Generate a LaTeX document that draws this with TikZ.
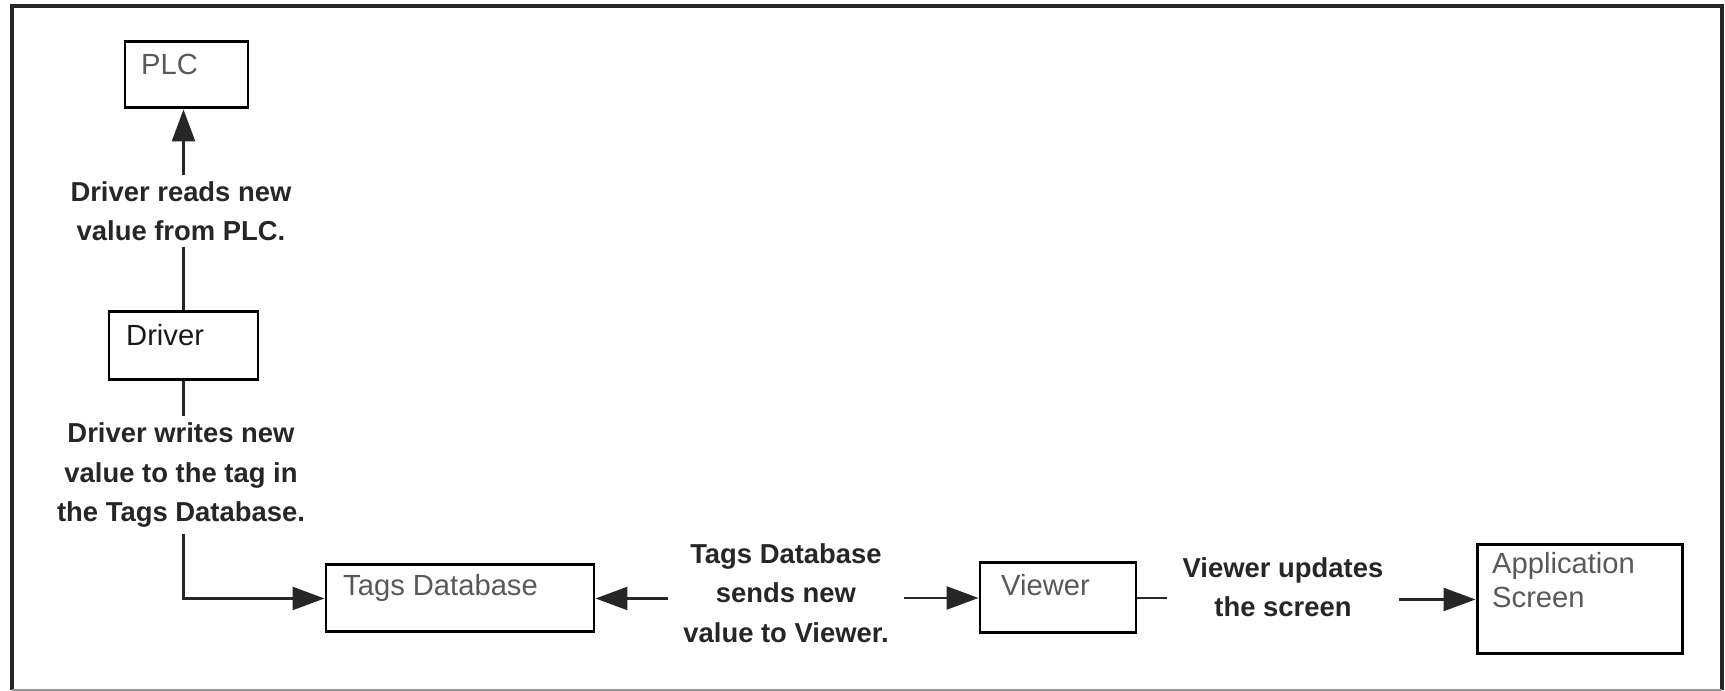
\documentclass[tikz,border=0pt]{standalone}
\usepackage{fontspec}
\setmainfont{Liberation Sans}
\usetikzlibrary{arrows.meta}

\tikzset{
  box/.style={draw, line width=0.85pt, inner sep=0pt},
  boxtxt/.style={anchor=north west, inner sep=0pt, align=left, text=black!65,
    font=\fontsize{8.3}{9.8}\selectfont},
  lbl/.style={align=center, inner xsep=1.5mm, inner ysep=0.6mm, text=black!85,
    font=\fontsize{7.8}{11.2}\selectfont\bfseries},
  conn/.style={line width=0.7pt, draw=black!85},
  tip/.style={-{Triangle[length=3.2mm,width=2.3mm]}}
}

\begin{document}
\begin{tikzpicture}
	  \useasboundingbox (0,0) rectangle (17.25,6.91);
	  \draw[line width=1.1pt, black!85] (0.12,0.01)--(0.12,6.85)--(17.22,6.85)--(17.22,0.01);
	  \draw[line width=0.4pt, black!40] (0.12,0.01)--(17.22,0.01);

	  \node[box, minimum width=1.23cm, minimum height=0.66cm](plc) at (1.865,6.16){};
	  \node[boxtxt] (plct) at ([xshift=1.7mm,yshift=-1.3mm]plc.north west){PLC};

	  \node[box, minimum width=1.49cm, minimum height=0.68cm](drv) at (1.835,3.45){};
	  \node[boxtxt, text=black!90] (drvt) at ([xshift=1.8mm,yshift=-1.3mm]drv.north west){Driver};

	  \node[box, minimum width=2.68cm, minimum height=0.67cm](tags) at (4.60,0.925){};
	  \node[boxtxt] (tagst) at ([xshift=1.8mm,yshift=-1.0mm]tags.north west){Tags Database};

	  \node[box, minimum width=1.56cm, minimum height=0.70cm](vwr) at (10.58,0.93){};
	  \node[boxtxt] (vwrt) at ([xshift=2.2mm,yshift=-1.2mm]vwr.north west){Viewer};

	  \node[box, minimum width=2.05cm, minimum height=1.09cm](app) at (15.795,0.915){};
	  \node[boxtxt] (appt) at ([xshift=1.6mm,yshift=-0.8mm]app.north west){Application\\Screen};

	  \node[lbl](rd) at (1.81,4.80){Driver reads new\\value from PLC.};
	  \node[lbl](wr) at (1.81,2.16){Driver writes new\\value to the tag in\\the Tags Database.};
	  \node[lbl](snd) at (7.86,0.98){Tags Database\\sends new\\value to Viewer.};
	  \node[lbl](upd) at (12.83,1.04){Viewer updates\\the screen};

	  \draw[conn] (drv.north)--(drv.north |- rd.south);
	  \draw[conn,tip] (drv.north |- rd.north)--(drv.north |- plc.south);

	  \draw[conn] (drv.south)--(drv.south |- wr.north);
	  \draw[conn,tip] (drv.south |- wr.south) |- (tags.west);

	  \draw[conn,tip] (snd.west |- tags.east)--(tags.east);
	  \draw[conn,tip] (snd.east |- vwr.west)--(vwr.west);

	  \draw[conn] (vwr.east)--(upd.west |- vwr.east);
	  \draw[conn,tip] (upd.east |- app.west)--(app.west);
\end{tikzpicture}
\end{document}
